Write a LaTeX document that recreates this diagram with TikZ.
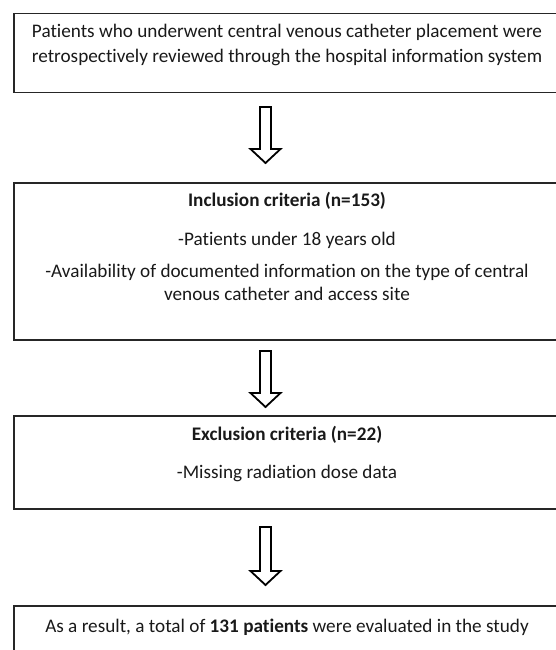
\documentclass[tikz,border=0pt]{standalone}
\usepackage{fontspec}
\setmainfont{Carlito}[Ligatures=NoCommon]
\usetikzlibrary{calc,positioning}

% hollow down arrow from a top point to its tip
\newcommand{\hollowdown}[2]{%
  \draw[hollow] ($(#1)+(-5.5,0)$) -- ($(#2)+(-5.5,-14)$) -- ($(#2)+(-15,-14)$) -- (#2)
    -- ($(#2)+(15,-14)$) -- ($(#2)+(5.5,-14)$) -- ($(#1)+(5.5,0)$) -- cycle;}

\begin{document}
\begin{tikzpicture}[x=1pt, y=-1pt, line join=miter,
    flowbox/.style={draw=black!85, line width=1.5pt, minimum width=550pt, anchor=north west, inner sep=0pt},
    boxtext/.style={font=\fontsize{19.2}{25}\selectfont, align=center, anchor=base, text=black!90, inner sep=0pt},
    hollow/.style={draw=black, line width=1.8pt, fill=white}]
		
		\useasboundingbox (0,0) rectangle (555,650);
		
		% four boxes, the right sides run off the page
		\node[flowbox, minimum height=79pt]  (box1) at (13,13)  {};
		\node[flowbox, minimum height=157pt] (box2) at (13,182) {};
		\node[flowbox, minimum height=93pt]  (box3) at (13,415) {};
		\node[flowbox, minimum height=70pt]  (box4) at (13,605) {};
		
		% texts (base = last line)
		\node[boxtext] (t1) at (287,63) {Patients who underwent central venous catheter placement were\\retrospectively reviewed through the hospital information system};
		\node[boxtext] (t2a) at (287,206) {\textbf{Inclusion criteria (n=153)}};
		\node[boxtext] (t2b) at (287,245) {-Patients under 18 years old};
		\node[boxtext, font=\fontsize{19.2}{23}\selectfont] (t2c) at (287,300) {-Availability of documented information on the type of central\\venous catheter and access site};
		\node[boxtext] (t3a) at (287,440) {\textbf{Exclusion criteria (n=22)}};
		\node[boxtext] (t3b) at (287,478) {-Missing radiation dose data};
		\node[boxtext] (t4) at (287,632) {As a result, a total of \textbf{131 patients} were evaluated in the study};
		
		% arrows between the boxes
		\coordinate (a1top) at (265.5,107);
		\coordinate (a1tip) at (265.5,163);
		\coordinate (a2top) at (265.5,351);
		\coordinate (a2tip) at (265.5,407);
		\coordinate (a3top) at (265.5,527);
		\coordinate (a3tip) at (265.5,585);
		\hollowdown{a1top}{a1tip}
		\hollowdown{a2top}{a2tip}
		\hollowdown{a3top}{a3tip}
		
	\end{tikzpicture}
\end{document}
